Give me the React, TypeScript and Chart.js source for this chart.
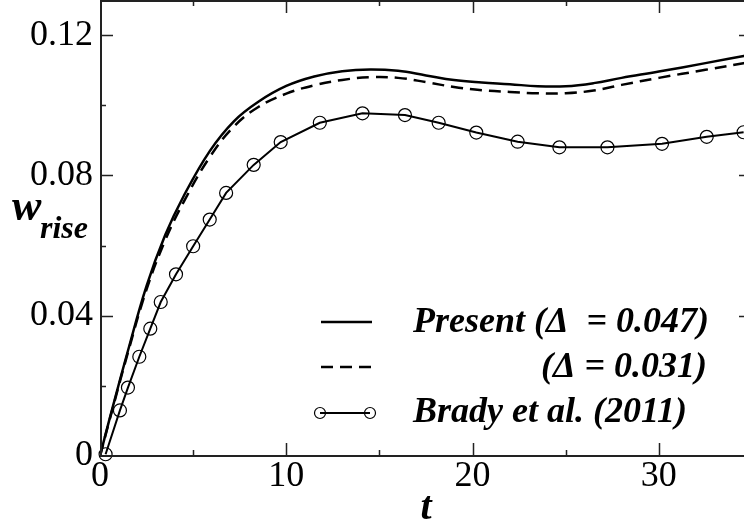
import { useEffect, useRef } from "react";
import { Chart, registerables } from "chart.js";

Chart.register(...registerables);

// Present (Δ = 0.047) — solid line
const presentT = [0, 0.5, 1.5, 2.5, 3.5, 4.5, 5.9, 7.2, 8.5, 10, 11.5, 13, 14.5, 16, 17.5, 19, 20.5, 22, 23.5, 25, 26.5, 28, 30, 32.5, 35];
const presentW = [0, 0.0103, 0.03, 0.0485, 0.063, 0.0742, 0.087, 0.0955, 0.101, 0.1055, 0.1082, 0.1097, 0.1102, 0.1098, 0.1085, 0.1072, 0.1065, 0.106, 0.1054, 0.1054, 0.1063, 0.1078, 0.1096, 0.112, 0.1145];

// (Δ = 0.031) — dashed line
const fineT = [0, 0.5, 1.5, 2.5, 3.5, 4.5, 5.9, 7.2, 8.5, 10, 11.5, 13, 14.5, 16, 17.5, 19, 20.5, 22, 23.5, 25, 26.5, 28, 30, 32.5, 35];
const fineW = [0, 0.01, 0.0295, 0.0475, 0.0615, 0.0725, 0.0853, 0.094, 0.0995, 0.1033, 0.1057, 0.1072, 0.108, 0.1078, 0.1066, 0.1052, 0.1043, 0.1038, 0.1034, 0.1034, 0.1042, 0.1058, 0.1078, 0.1101, 0.1124];

// Brady et al. (2011) — line with circles
const bradyT = [0.3, 1.07, 1.5, 2.11, 2.7, 3.26, 4.08, 5.0, 5.89, 6.77, 8.25, 9.7, 11.8, 14.09, 16.37, 18.18, 20.2, 22.42, 24.66, 27.24, 30.17, 32.57, 34.55];
const bradyW = [0.0005, 0.013, 0.0195, 0.0283, 0.0363, 0.0439, 0.0518, 0.0598, 0.0674, 0.075, 0.083, 0.0895, 0.095, 0.0977, 0.0972, 0.095, 0.0922, 0.0896, 0.088, 0.088, 0.089, 0.091, 0.0923];

const xMajorTicks = [0, 10, 20, 30];
const xMinorTicks = [5, 15, 25];
const yMajorTicks = [0, 0.04, 0.08, 0.12];
const yMinorTicks = [0.02, 0.06, 0.1];

const legendLabels = ["Present (\u0394  = 0.047)", "(\u0394 = 0.031)", "Brady et al. (2011)"];
const xTitle = "t";
const yTitleMain = "w";
const yTitleSub = "rise";

const SERIF = "'Liberation Serif', 'Times New Roman', serif";

const toPoints = (xs: number[], ys: number[]) => xs.map((x, i) => ({ x, y: ys[i] }));

export default function App() {
  const ref = useRef<HTMLCanvasElement | null>(null);

  useEffect(() => {
    if (!ref.current) return;

    const decor = {
      id: "decor",
      afterDraw(chart: any) {
        const { ctx, chartArea: a, scales } = chart;
        const xs = scales.x;
        const ys = scales.y;
        ctx.save();
        // frame
        ctx.strokeStyle = "#222";
        ctx.lineWidth = 2;
        ctx.beginPath();
        ctx.moveTo(a.left + 1, a.top);
        ctx.lineTo(a.left + 1, a.bottom);
        ctx.lineTo(a.right, a.bottom);
        ctx.moveTo(a.left, a.top + 1);
        ctx.lineTo(a.right, a.top + 1);
        ctx.moveTo(a.right - 1, a.top);
        ctx.lineTo(a.right - 1, a.bottom);
        ctx.stroke();

        // ticks
        ctx.lineWidth = 1.5;
        ctx.beginPath();
        const xt = (vals: number[], len: number) => {
          vals.forEach((v) => {
            const px = Math.round(xs.getPixelForValue(v)) + 0.5;
            ctx.moveTo(px, a.bottom);
            ctx.lineTo(px, a.bottom - len);
            ctx.moveTo(px, a.top);
            ctx.lineTo(px, a.top + len);
          });
        };
        const yt = (vals: number[], len: number) => {
          vals.forEach((v) => {
            const py = Math.round(ys.getPixelForValue(v)) + 0.5;
            ctx.moveTo(a.left, py);
            ctx.lineTo(a.left + len, py);
            ctx.moveTo(a.right, py);
            ctx.lineTo(a.right - len, py);
          });
        };
        xt(xMajorTicks.slice(1), 13);
        xt(xMinorTicks, 6);
        yt(yMajorTicks.slice(1), 13);
        yt(yMinorTicks, 6);
        ctx.stroke();

        // axis titles
        ctx.fillStyle = "#000";
        ctx.textBaseline = "alphabetic";
        ctx.textAlign = "center";
        ctx.font = `italic bold 40px ${SERIF}`;
        ctx.fillText(xTitle, (a.left + a.right) / 2, 519);
        ctx.textAlign = "left";
        ctx.font = `italic bold 44px ${SERIF}`;
        ctx.fillText(yTitleMain, 12, 220);
        ctx.font = `italic bold 32px ${SERIF}`;
        ctx.fillText(yTitleSub, 40, 238);

        // legend
        ctx.strokeStyle = "#000";
        ctx.lineWidth = 2.5;
        ctx.beginPath();
        ctx.moveTo(321, 322);
        ctx.lineTo(372, 322);
        ctx.stroke();
        ctx.setLineDash([12, 7]);
        ctx.beginPath();
        ctx.moveTo(321, 367);
        ctx.lineTo(372, 367);
        ctx.stroke();
        ctx.setLineDash([]);
        ctx.lineWidth = 2;
        ctx.beginPath();
        ctx.moveTo(320, 413);
        ctx.lineTo(370, 413);
        ctx.stroke();
        ctx.lineWidth = 1.2;
        ctx.beginPath();
        ctx.arc(320, 413, 5.5, 0, Math.PI * 2);
        ctx.stroke();
        ctx.beginPath();
        ctx.arc(370, 413, 5.5, 0, Math.PI * 2);
        ctx.stroke();

        ctx.font = `italic bold 36px ${SERIF}`;
        ctx.textAlign = "left";
        ctx.fillText(legendLabels[0], 413, 332);
        ctx.textAlign = "right";
        ctx.fillText(legendLabels[1], 707, 377);
        ctx.textAlign = "left";
        ctx.fillText(legendLabels[2], 413, 422);
        ctx.restore();
      },
    };

    const chart = new Chart(ref.current, {
      type: "line",
      data: {
        datasets: [
          {
            label: legendLabels[0],
            data: toPoints(presentT, presentW),
            borderColor: "#000",
            borderWidth: 2.5,
            pointRadius: 0,
            tension: 0.4,
            fill: false,
          },
          {
            label: legendLabels[1],
            data: toPoints(fineT, fineW),
            borderColor: "#000",
            borderWidth: 2.5,
            borderDash: [12, 7],
            pointRadius: 0,
            tension: 0.4,
            fill: false,
          },
          {
            label: legendLabels[2],
            data: toPoints(bradyT, bradyW),
            borderColor: "#000",
            borderWidth: 2,
            tension: 0,
            pointRadius: 6.5,
            pointStyle: "circle",
            pointBorderWidth: 1.2,
            pointBorderColor: "#000",
            pointBackgroundColor: "rgba(0,0,0,0)",
            fill: false,
            clip: 12,
          },
        ],
      },
      options: {
        animation: false,
        responsive: false,
        devicePixelRatio: 1,
        layout: { autoPadding: false, padding: { top: 0, right: 8, bottom: 0, left: 0 } },
        plugins: {
          legend: { display: false },
          tooltip: { enabled: false },
          title: { display: false },
        },
        scales: {
          x: {
            type: "linear",
            min: 0,
            max: 35,
            grid: { display: false, drawTicks: false },
            border: { display: false },
            ticks: {
              stepSize: 10,
              includeBounds: false,
              maxRotation: 0,
              padding: -1,
              color: "#000",
              font: { family: SERIF, size: 36 },
              callback: (v: any) => String(Math.round(Number(v))),
            },
            afterFit: (s: any) => {
              s.height = 69;
              s.paddingLeft = 0;
              s.paddingRight = 0;
            },
          },
          y: {
            type: "linear",
            min: 0,
            max: 0.13,
            grid: { display: false, drawTicks: false },
            border: { display: false },
            ticks: {
              stepSize: 0.04,
              includeBounds: false,
              padding: 7,
              color: "#000",
              font: { family: SERIF, size: 36 },
              callback: (v: any) => (Number(v) === 0 ? "0" : Number(v).toFixed(2)),
            },
            afterFit: (s: any) => {
              s.width = 100;
              s.paddingTop = 0;
              s.paddingBottom = 0;
            },
          },
        },
      },
      plugins: [decor],
    } as any);

    return () => chart.destroy();
  }, []);

  return (
    <div
      style={{
        position: "fixed",
        left: 0,
        top: 0,
        width: 744,
        height: 525,
        overflow: "hidden",
        background: "#fff",
      }}
    >
      <canvas ref={ref} width={760} height={525} style={{ display: "block", width: 760, height: 525 }} />
    </div>
  );
}
